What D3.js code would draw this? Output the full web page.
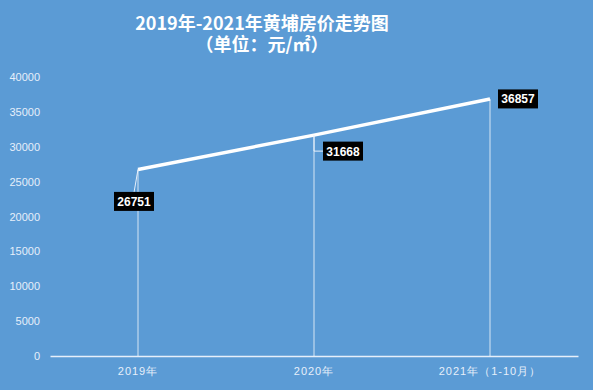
<!DOCTYPE html>
<html>
<head>
<meta charset="utf-8">
<script src="https://cdn.jsdelivr.net/npm/d3@7"></script>
<style>
  body { margin: 0; background: #5b9bd5; }
  svg { display: block; font-family: "Noto Sans CJK SC", "Noto Sans", sans-serif; }
</style>
</head>
<body>
<div id="chart"></div>
<script>
const categories = ["2019年", "2020年", "2021年（1-10月）"];
const prices = [26751, 31668, 36857];
const yTicks = [0, 5000, 10000, 15000, 20000, 25000, 30000, 35000, 40000];
const titleLines = ["2019年-2021年黄埔房价走势图", "（单位：元/㎡）"];

const width = 593, height = 390;
const margin = {top: 77, right: 15, bottom: 34, left: 50};

const svg = d3.select("#chart").append("svg")
  .attr("width", width)
  .attr("height", height);

svg.append("rect").attr("width", width).attr("height", height).attr("fill", "#5b9bd5");

const x = d3.scaleBand()
  .domain(categories)
  .range([margin.left, width - margin.right]);

const y = d3.scaleLinear()
  .domain([0, 40000])
  .range([height - margin.bottom, margin.top]);

// title
svg.append("g")
  .selectAll("text")
  .data(titleLines)
  .join("text")
  .attr("x", 262)
  .attr("y", (d, i) => 30 + i * 21)
  .attr("text-anchor", "middle")
  .attr("fill", "#ffffff")
  .attr("font-size", 18)
  .attr("font-weight", "bold")
  .text(d => d);

// y axis labels
const yAxis = svg.append("g")
  .attr("transform", `translate(${margin.left - 10},0)`)
  .call(d3.axisLeft(y).tickValues(yTicks).tickSize(0).tickPadding(0).tickFormat(d3.format("d")));
yAxis.select(".domain").remove();
yAxis.selectAll("text")
  .attr("fill", "#e6effa")
  .attr("font-size", 11)
  .attr("font-family", "'Liberation Sans', sans-serif");

// x axis
const xAxis = svg.append("g")
  .attr("transform", `translate(0,${y(0)})`)
  .call(d3.axisBottom(x).tickSize(0).tickPadding(11));
xAxis.select(".domain").attr("stroke", "#e6effa").attr("stroke-width", 1.5);
xAxis.selectAll("text")
  .attr("fill", "#e6effa")
  .attr("font-size", 11)
  .attr("letter-spacing", "1px");

const cx = d => x(d) + x.bandwidth() / 2;
const pts = categories.map((c, i) => ({c, v: prices[i]}));

// drop lines
svg.append("g")
  .selectAll("line")
  .data(pts)
  .join("line")
  .attr("x1", d => cx(d.c)).attr("x2", d => cx(d.c))
  .attr("y1", d => y(d.v)).attr("y2", y(0))
  .attr("stroke", "#ffffff")
  .attr("stroke-opacity", 0.75)
  .attr("stroke-width", 1);

// main line
svg.append("path")
  .datum(pts)
  .attr("fill", "none")
  .attr("stroke", "#ffffff")
  .attr("stroke-width", 3.5)
  .attr("d", d3.line().x(d => cx(d.c)).y(d => y(d.v)));

// data label box: left edge / vertical centre offset from the point
const labelOffsets = [[-24, 32], [9, 16], [8, 0]];

svg.append("g")
  .selectAll("path")
  .data(pts.slice(0, 2))
  .join("path")
  .attr("fill", "none")
  .attr("stroke", "#e6effa")
  .attr("stroke-width", 1)
  .attr("d", (d, i) => {
    const px = cx(d.c), py = y(d.v);
    const [dx, dy] = labelOffsets[i];
    if (i === 0) return `M${px},${py}L${px - 4},${py + dy - 9}`;
    return `M${px},${py}V${py + dy}H${px + dx}`;
  });

const labels = svg.append("g")
  .selectAll("g")
  .data(pts)
  .join("g")
  .attr("transform", (d, i) => `translate(${cx(d.c) + labelOffsets[i][0]},${y(d.v) + labelOffsets[i][1]})`);

labels.append("rect")
  .attr("x", 0)
  .attr("y", -9.5)
  .attr("width", 40)
  .attr("height", 19)
  .attr("fill", "#000000");

labels.append("text")
  .attr("x", 20)
  .attr("y", 4.5)
  .attr("text-anchor", "middle")
  .attr("fill", "#ffffff")
  .attr("font-size", 12)
  .attr("font-weight", "bold")
  .attr("font-family", "'Liberation Sans', sans-serif")
  .text(d => d.v);
</script>
</body>
</html>
